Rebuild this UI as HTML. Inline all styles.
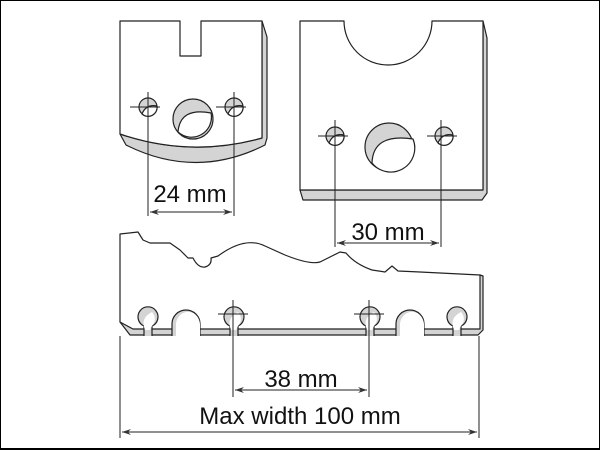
<!DOCTYPE html>
<html><head><style>
html,body{margin:0;padding:0;background:#fff}
svg{display:block}
</style></head><body>
<svg width="600" height="450" viewBox="0 0 600 450" xmlns="http://www.w3.org/2000/svg" font-family="Liberation Sans, Arial, sans-serif">
<defs>
<marker id="a" markerWidth="10" markerHeight="8" refX="9" refY="4" orient="auto" markerUnits="userSpaceOnUse"><path d="M0,1 L9,4 L0,7 L3,4Z" fill="#333"/></marker>
<marker id="b" markerWidth="10" markerHeight="8" refX="1" refY="4" orient="auto" markerUnits="userSpaceOnUse"><path d="M10,1 L1,4 L10,7 L7,4Z" fill="#333"/></marker>
</defs>
<rect x="0.5" y="0.5" width="599" height="448" fill="#fff" stroke="#000" stroke-width="1"/>
<line x1="0" y1="449" x2="600" y2="449" stroke="#000" stroke-width="2"/>
<g stroke="#222" stroke-width="1.2" stroke-linejoin="round">
<path d="M262,21 L267,37 L267,138 L265,145 Q196,180 126,145 L120,134 Q190,158 262,138Z" fill="#d4d4d4"/>
<path d="M120,21 L180,21 L180,56 L201,56 L201,21 L262,21 L262,138 Q190,158 120,134Z" fill="#fff"/>
<circle cx="148" cy="107" r="9" fill="#d4d4d4"/><path d="M142,114 Q146,104 157,106 A9,9 0 0 1 142,114Z" fill="#fff"/>
<circle cx="234" cy="107" r="9" fill="#d4d4d4"/><path d="M228,114 Q232,104 243,106 A9,9 0 0 1 228,114Z" fill="#fff"/>
<circle cx="193" cy="119" r="20" fill="#d4d4d4"/><path d="M178,132 Q180,107 211,113 A20,20 0 0 1 178,132Z" fill="#fff"/>
<path d="M483,21 L487,38 L487,193 L482,200 L303,200 L300,190 L483,190Z" fill="#d4d4d4"/>
<path d="M300,21 L344,21 A44,44 0 0 0 432,21 L483,21 L483,190 L300,190Z" fill="#fff"/>
<circle cx="335" cy="136" r="9" fill="#d4d4d4"/><path d="M329,143 Q333,133 344,135 A9,9 0 0 1 329,143Z" fill="#fff"/>
<circle cx="444" cy="136" r="9" fill="#d4d4d4"/><path d="M438,143 Q442,133 453,135 A9,9 0 0 1 438,143Z" fill="#fff"/>
<circle cx="389" cy="147" r="24" fill="#d4d4d4"/><path d="M372,163 Q373,133 413,139 A24,24 0 0 1 372,163Z" fill="#fff"/>
<path d="M480,275 L483,276 L483,330 L478,335 L130,335 L120,322Z" fill="#d4d4d4"/>
<path d="M120,234 L138,232 L143,240 L150,243 L170,243 L180,250 L188,258 L193,258 Q198,268 205,267 Q212,265 211,258 L218,256 Q245,236 265,246 L285,255 Q310,265 320,262 L340,252 L346,253 Q355,264 372,270 L385,272 L392,266 L398,271 L420,272 L480,275 L480,329 L133,329 L120,322Z" fill="#fff"/>
</g>
<g stroke="#222" stroke-width="1.2" fill="#fff">
<path d="M144,336 L144,326 A10,10 0 1 1 152,326 L152,336" fill="#d4d4d4"/>
<path d="M145,330 Q140,318 152,312 A10,10 0 0 1 152,326 L150,330Z" stroke="none"/>
<path d="M172,336 L172,324 A14,14 0 0 1 200,324 L200,336" fill="#d4d4d4"/>
<path d="M176,336 L176,326 A11,12 0 0 1 200,324 L200,336Z" stroke="none"/>
<path d="M230,336 L230,326 A10,10 0 1 1 238,326 L238,336" fill="#d4d4d4"/>
<path d="M231,330 Q226,318 238,312 A10,10 0 0 1 238,326 L236,330Z" stroke="none"/>
<path d="M366,336 L366,326 A10,10 0 1 1 374,326 L374,336" fill="#d4d4d4"/>
<path d="M367,330 Q362,318 374,312 A10,10 0 0 1 374,326 L372,330Z" stroke="none"/>
<path d="M396,336 L396,324 A14,14 0 0 1 424,324 L424,336" fill="#d4d4d4"/>
<path d="M400,336 L400,326 A11,12 0 0 1 424,324 L424,336Z" stroke="none"/>
<path d="M453,336 L453,326 A10,10 0 1 1 461,326 L461,336" fill="#d4d4d4"/>
<path d="M454,330 Q449,318 461,312 A10,10 0 0 1 461,326 L459,330Z" stroke="none"/>
</g>
<g stroke="#222" stroke-width="1" fill="none">
<line x1="130" y1="107" x2="160" y2="107"/><line x1="148" y1="92" x2="148" y2="216"/>
<line x1="216" y1="107" x2="246" y2="107"/><line x1="234" y1="92" x2="234" y2="216"/>
<line x1="150" y1="212" x2="232" y2="212" marker-start="url(#b)" marker-end="url(#a)"/>
<line x1="318" y1="136" x2="348" y2="136"/><line x1="335" y1="120" x2="335" y2="247"/>
<line x1="427" y1="136" x2="457" y2="136"/><line x1="441" y1="120" x2="441" y2="247"/>
<line x1="337" y1="243" x2="439" y2="243" marker-start="url(#b)" marker-end="url(#a)"/>
<line x1="218" y1="314" x2="248" y2="314"/><line x1="233" y1="300" x2="233" y2="397"/>
<line x1="354" y1="314" x2="384" y2="314"/><line x1="369" y1="300" x2="369" y2="397"/>
<line x1="235" y1="390" x2="367" y2="390" marker-start="url(#b)" marker-end="url(#a)"/>
<line x1="120" y1="336" x2="120" y2="438"/><line x1="479" y1="336" x2="479" y2="438"/>
<line x1="122" y1="432" x2="477" y2="432" marker-start="url(#b)" marker-end="url(#a)"/>
</g>
<g font-size="24" fill="#111" text-anchor="middle">
<text x="190" y="202">24 mm</text>
<text x="388" y="240">30 mm</text>
<text x="301" y="387">38 mm</text>
<text x="300" y="424">Max width 100 mm</text>
</g>
</svg>
</body></html>
